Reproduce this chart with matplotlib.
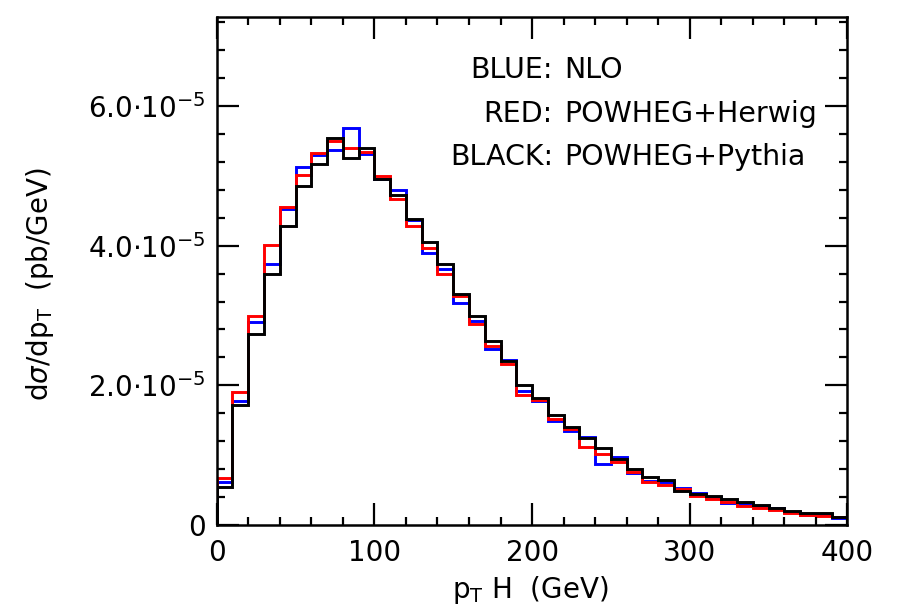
import matplotlib
matplotlib.use("Agg")
import matplotlib.pyplot as plt
import numpy as np
from matplotlib.ticker import MultipleLocator

# bin edges in GeV (10 GeV bins from 0 to 400)
edges = np.arange(0, 410, 10)

# dsigma/dpT in units of 1e-5 pb/GeV
nlo = [0.61, 1.77, 2.91, 3.74, 4.52, 5.13, 5.30, 5.37, 5.68, 5.31,
       4.96, 4.79, 4.36, 3.90, 3.66, 3.18, 2.92, 2.52, 2.37, 1.92,
       1.78, 1.49, 1.35, 1.26, 0.88, 0.97, 0.75, 0.63, 0.61, 0.53,
       0.46, 0.40, 0.31, 0.30, 0.27, 0.25, 0.19, 0.15, 0.16, 0.10]
herwig = [0.67, 1.91, 2.99, 4.01, 4.55, 5.01, 5.33, 5.50, 5.40, 5.34,
          5.00, 4.66, 4.28, 3.97, 3.59, 3.28, 2.88, 2.57, 2.31, 1.86,
          1.79, 1.52, 1.37, 1.12, 1.02, 0.91, 0.76, 0.61, 0.57, 0.52,
          0.42, 0.37, 0.33, 0.27, 0.24, 0.22, 0.17, 0.15, 0.13, 0.11]
pythia = [0.55, 1.72, 2.73, 3.59, 4.28, 4.85, 5.17, 5.54, 5.26, 5.39,
          4.95, 4.72, 4.38, 4.05, 3.73, 3.31, 2.99, 2.64, 2.35, 2.01,
          1.82, 1.57, 1.41, 1.24, 1.10, 0.95, 0.81, 0.69, 0.64, 0.49,
          0.45, 0.42, 0.37, 0.33, 0.29, 0.24, 0.20, 0.17, 0.17, 0.12]

yticks = [0, 2e-5, 4e-5, 6e-5]
yticklabels = ["0", r"$2.0{\cdot}10^{-5}$", r"$4.0{\cdot}10^{-5}$", r"$6.0{\cdot}10^{-5}$"]
xticks = [0, 100, 200, 300, 400]

fig = plt.figure(figsize=(8.99, 6.12), dpi=100)
ax = fig.add_axes([0.241, 0.142, 0.7017, 0.830])

ax.stairs(np.array(nlo) * 1e-5, edges, color="#0000ff", lw=2.1)
ax.stairs(np.array(herwig) * 1e-5, edges, color="#ff0000", lw=2.1)
ax.stairs(np.array(pythia) * 1e-5, edges, color="black", lw=2.1)

ax.set_xlim(0, 400)
ax.set_ylim(0, 7.27e-5)
ax.set_xticks(xticks)
ax.set_xticklabels([str(v) for v in xticks])
ax.set_yticks(yticks)
ax.set_yticklabels(yticklabels)
ax.xaxis.set_minor_locator(MultipleLocator(20))
ax.yaxis.set_minor_locator(MultipleLocator(0.4e-5))
ax.tick_params(which="both", direction="in", top=True, right=True, width=1.6,
               labelsize=20)
ax.tick_params(which="major", length=16)
ax.tick_params(which="minor", length=6)
ax.tick_params(axis="x", pad=10)
ax.tick_params(axis="y", pad=8)
for s in ax.spines.values():
    s.set_linewidth(1.8)

fig.text(0.045, 0.535, r"d$\sigma$/dp$_\mathrm{T}$  (pb/GeV)", rotation=90,
         ha="center", va="center", fontsize=20)
fig.text(0.59, 0.036, r"p$_\mathrm{T}$ H  (GeV)", ha="center", va="center",
         fontsize=20)

# legend text, aligned around the colons
lines = [("BLUE:", "NLO", 0.896),
         ("RED:", "POWHEG+Herwig", 0.81),
         ("BLACK:", "POWHEG+Pythia", 0.725)]
for left, right, y in lines:
    ax.text(0.533, y, left, transform=ax.transAxes, ha="right", va="center", fontsize=20.5)
    ax.text(0.551, y, right, transform=ax.transAxes, ha="left", va="center", fontsize=20.5)

fig.savefig("out.png", dpi=100)
